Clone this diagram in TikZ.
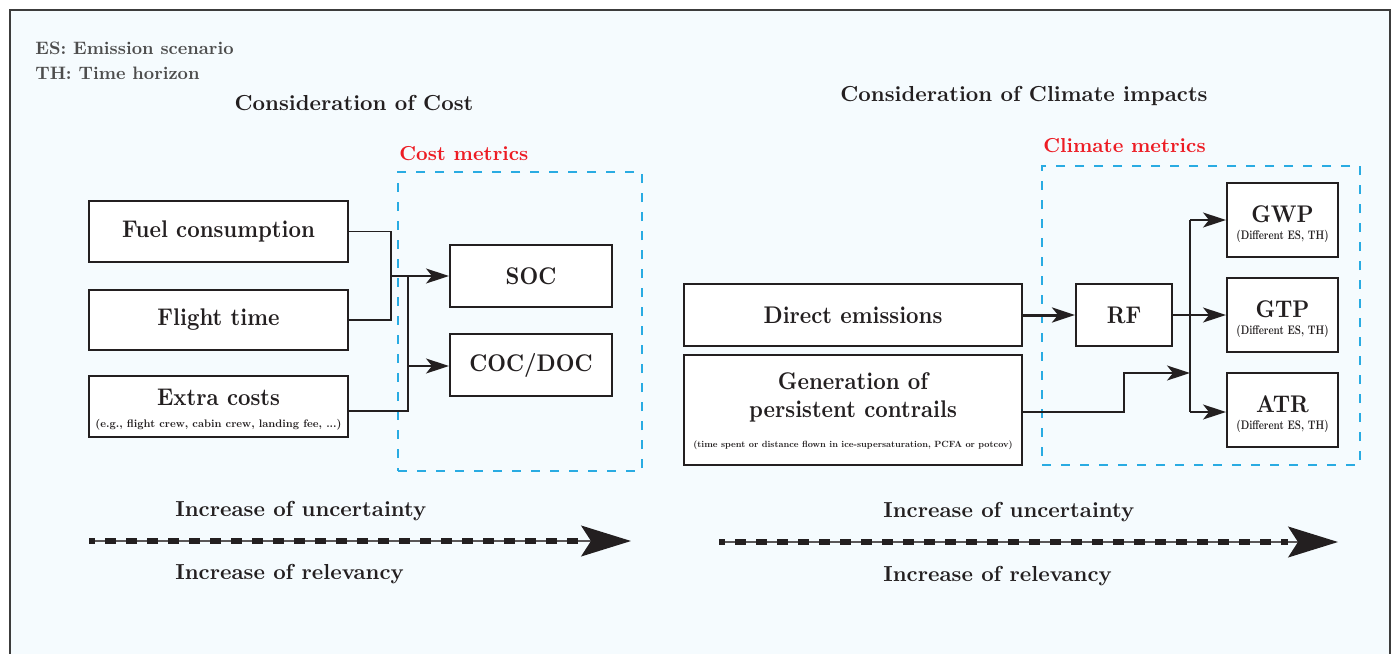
\documentclass[tikz,border=0pt]{standalone}
\usepackage{fontspec}
\newfontfamily\bxf{lmroman10-bold}[Extension=.otf]
\newfontfamily\bxc{lmroman10-bold}[Extension=.otf, FakeStretch=0.9]
\newfontfamily\bxcc{lmroman10-bold}[Extension=.otf, FakeStretch=0.78]
\usetikzlibrary{arrows.meta,calc}
\definecolor{ink}{HTML}{231F20}
\definecolor{framecol}{HTML}{3C3C3C}
\definecolor{bgblue}{HTML}{F5FBFE}
\definecolor{cyanbox}{HTML}{29ABE2}
\definecolor{redlab}{HTML}{ED1C24}
\definecolor{graytxt}{HTML}{4D4D4D}
\begin{document}
\begin{tikzpicture}[x=0.5pt,y=-0.5pt,
  mainfont/.style={font=\bxf\fontsize{10.85}{13}\selectfont},
  boxfont/.style={font=\bxc\fontsize{12.05}{14}\selectfont},
  box/.style={draw=ink, line width=1pt, fill=white, rectangle, inner sep=0pt, text=ink, boxfont},
  lbl/.style={inner sep=0pt, text=ink, mainfont},
  blbl/.style={inner sep=0pt, text=ink, boxfont},
  sublbl/.style={inner sep=0pt, text=ink},
  difflbl/.style={inner sep=0pt, text=ink, font=\bxcc\fontsize{6.2}{7}\selectfont},
  metricbox/.style={draw=cyanbox, line width=0.8pt, dash pattern=on 4.5pt off 5pt, rectangle, inner sep=0pt},
  redlbl/.style={inner sep=0pt, text=redlab, font=\bxf\fontsize{10.1}{12}\selectfont, anchor=west},
  conn/.style={draw=ink, line width=0.75pt},
  arr/.style={conn, -{Stealth[length=11.5pt,width=7.5pt,inset=3pt]}},
  thinline/.style={draw=ink!75, line width=0.7pt},
  bigarr/.style={thinline, -{Stealth[length=25pt,width=15.5pt,inset=5pt,color=ink]}},
  thickdash/.style={draw=ink, line width=2.6pt, dash pattern=on 5.5pt off 5pt}
]
\useasboundingbox (0,0) rectangle (1394,654);
\clip (0,0) rectangle (1394,654);
\draw[framecol, line width=0.8pt, fill=bgblue] (10,10) rectangle (1390,720);

% legend
\node[inner sep=0pt, anchor=west, text=graytxt, font=\bxf\fontsize{9}{11}\selectfont] (es) at (35,48) {ES: Emission scenario};
\node[inner sep=0pt, anchor=west, text=graytxt, font=\bxf\fontsize{9}{11}\selectfont] (th) at (35,73) {TH: Time horizon};

% titles
\node[lbl] (tcost) at (354,103) {Consideration of Cost};
\node[lbl] (tclim) at (1024,96) {Consideration of Climate impacts};

% metric regions
\node[metricbox, minimum width=122pt, minimum height=149.5pt] (costm) at (520,321.5) {};
\node[redlbl] (costml) at (399,154) {Cost metrics};
\node[metricbox, minimum width=159pt, minimum height=149.5pt] (climm) at (1201,315.5) {};
\node[redlbl] (climml) at (1043,146) {Climate metrics};

% cost boxes
\node[box, minimum width=129.5pt, minimum height=30.5pt] (fuel) at (218.5,231.5) {Fuel consumption};
\node[box, minimum width=129.5pt, minimum height=30pt] (flight) at (218.5,320) {Flight time};
\node[box, minimum width=129.5pt, minimum height=30.5pt] (extra) at (218.5,406.5) {};
\node[blbl] (extral) at (218.5,397) {Extra costs};
\node[sublbl, font=\bxf\fontsize{5.45}{6.5}\selectfont] (extras) at (218.5,425) {(e.g., flight crew, cabin crew, landing fee, ...)};
\node[box, minimum width=81pt, minimum height=31pt] (soc) at (531,276) {SOC};
\node[box, minimum width=81pt, minimum height=31pt] (coc) at (531,365) {COC/DOC};

% climate boxes
\node[box, minimum width=169pt, minimum height=31pt] (direct) at (853,315) {Direct emissions};
\node[box, minimum width=169pt, minimum height=55pt] (gen) at (853,410) {};
\node[blbl] (genl1) at (853,381) {Generation of};
\node[blbl] (genl2) at (853,411) {persistent contrails};
\node[sublbl, font=\bxf\fontsize{4.5}{5.5}\selectfont] (gens) at (853,445) {(time spent or distance flown in ice-supersaturation, PCFA or potcov)};
\node[box, minimum width=48pt, minimum height=31pt] (rf) at (1124,315) {RF};
\node[box, minimum width=55.5pt, minimum height=37pt] (gwp) at (1282.5,220) {};
\node[blbl] (gwpl) at (1282.5,214) {GWP};
\node[difflbl] (gwps) at (1282.5,236) {(Different ES, TH)};
\node[box, minimum width=55.5pt, minimum height=37pt] (gtp) at (1282.5,315) {};
\node[blbl] (gtpl) at (1282.5,309) {GTP};
\node[difflbl] (gtps) at (1282.5,331) {(Different ES, TH)};
\node[box, minimum width=55.5pt, minimum height=37pt] (atr) at (1282.5,410) {};
\node[blbl] (atrl) at (1282.5,404) {ATR};
\node[difflbl] (atrs) at (1282.5,426) {(Different ES, TH)};

% cost connectors
\coordinate (jA) at (391,276);
\coordinate (jB) at (408,276);
\coordinate (jBm) at (408,366);
\draw[conn] (fuel.east) -| (jA) |- (flight.east);
\draw[arr] (jA) -- (soc.west);
\draw[conn] ([yshift=-2.25pt]extra.east) -| (jB);
\draw[arr] (jBm) -- (jBm -| coc.west);

% climate connectors
\coordinate (jC) at (1190,315);
\coordinate (jCt) at (1190,220);
\coordinate (jCb) at (1190,412);
\coordinate (kD) at (1124,373);
\coordinate (jD) at (1190,373);
\draw[arr, line width=1.5pt] (direct.east) -- (rf.west);
\draw[conn] (rf.east) -- (jC);
\draw[conn] (jCt) -- (jCb);
\draw[arr] (jCt) -- (gwp.west);
\draw[arr] (jC) -- (gtp.west);
\draw[arr] (jCb) -- (jCb -| atr.west);
\draw[arr] ([yshift=-1pt]gen.east) -| (kD) -- (jD);

% uncertainty arrows
\coordinate (uA) at (89,541);
\coordinate (uB) at (631,541);
\coordinate (uC) at (719,542);
\coordinate (uD) at (1338,542);
\draw[bigarr] (uA) -- (uB);
\draw[thickdash] ($(uA)+(16,0)$) -- ($(uB)+(-50,0)$);
\fill[ink] ($(uA)+(0,-3)$) rectangle ($(uA)+(6,3)$);
\draw[bigarr] (uC) -- (uD);
\draw[thickdash] ($(uC)+(16,0)$) -- ($(uD)+(-50,0)$);
\fill[ink] ($(uC)+(0,-3)$) rectangle ($(uC)+(6,3)$);

\node[lbl, anchor=west] (unc1) at (175,511) {Increase of uncertainty};
\node[lbl, anchor=west] (rel1) at (175,574) {Increase of relevancy};
\node[lbl, anchor=west] (unc2) at (883,512) {Increase of uncertainty};
\node[lbl, anchor=west] (rel2) at (883,576) {Increase of relevancy};
\end{tikzpicture}
\end{document}
